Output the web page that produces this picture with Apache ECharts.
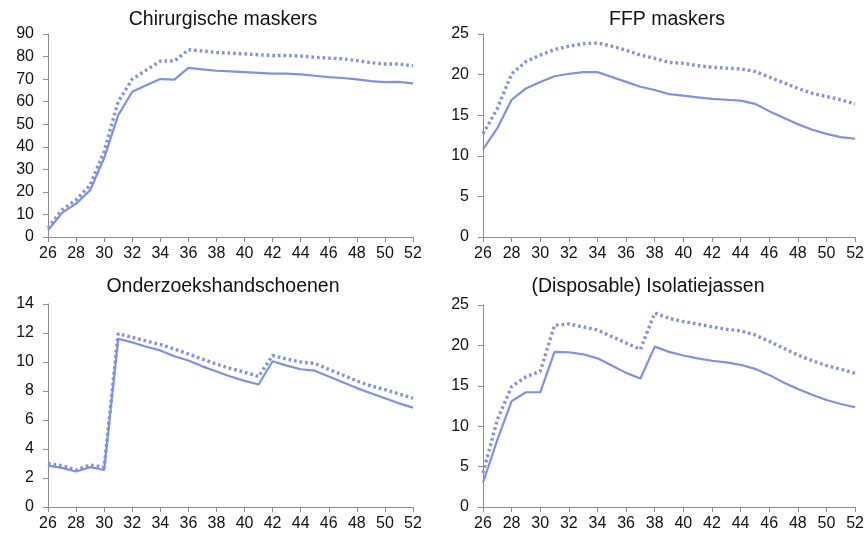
<!DOCTYPE html>
<html><head><meta charset="utf-8">
<script src="https://cdn.jsdelivr.net/npm/echarts@6/dist/echarts.min.js"></script>
<style>html,body{margin:0;padding:0;background:#fff}#c{width:867px;height:537px}</style>
</head><body><div id="c"></div>
<script>
var weeks = [];
for (var w = 26; w <= 52; w++) weeks.push(String(w));

var titles = ['Chirurgische maskers', 'FFP maskers', 'Onderzoekshandschoenen', '(Disposable) Isolatiejassen'];

var chirSolid = [3, 10.7, 14.8, 20.7, 35, 54, 64.4, 67.3, 70, 69.8, 75, 74.3, 73.7, 73.4, 73.1, 72.8, 72.4, 72.4, 72.1, 71.5, 70.9, 70.5, 69.9, 69.1, 68.7, 68.8, 68.1];
var chirDotted = [4, 12, 16.5, 23, 38, 60, 70, 74, 78, 78, 83, 82.5, 81.8, 81.5, 81.2, 80.8, 80.5, 80.5, 80.2, 79.7, 79.3, 79, 78.2, 77.3, 76.7, 76.7, 75.9];

var ffpSolid = [10.8, 13.4, 16.9, 18.3, 19.1, 19.8, 20.1, 20.3, 20.3, 19.7, 19.1, 18.5, 18.1, 17.6, 17.4, 17.2, 17.0, 16.9, 16.8, 16.4, 15.5, 14.7, 13.9, 13.2, 12.7, 12.3, 12.1];
var ffpDotted = [12.7, 15.8, 20.1, 21.6, 22.4, 23.1, 23.5, 23.8, 23.9, 23.5, 23.0, 22.4, 22.0, 21.5, 21.4, 21.1, 20.9, 20.8, 20.7, 20.4, 19.7, 19.0, 18.3, 17.7, 17.3, 16.9, 16.4];

var handSolid = [2.85, 2.7, 2.45, 2.75, 2.55, 11.6, 11.35, 11.05, 10.8, 10.4, 10.1, 9.7, 9.35, 9.0, 8.7, 8.45, 10.05, 9.75, 9.5, 9.4, 9.0, 8.6, 8.2, 7.85, 7.5, 7.15, 6.85];
var handDotted = [3.0, 2.85, 2.55, 2.9, 2.75, 11.95, 11.7, 11.45, 11.2, 10.9, 10.55, 10.2, 9.85, 9.55, 9.3, 9.0, 10.45, 10.2, 10.0, 9.9, 9.5, 9.1, 8.7, 8.35, 8.1, 7.8, 7.5];

var isoSolid = [3.0, 8.3, 13.1, 14.2, 14.2, 19.2, 19.15, 18.9, 18.4, 17.5, 16.6, 15.9, 19.85, 19.2, 18.75, 18.4, 18.1, 17.9, 17.6, 17.1, 16.35, 15.4, 14.6, 13.9, 13.25, 12.75, 12.35];
var isoDotted = [4.2, 10.8, 14.9, 16.1, 16.8, 22.5, 22.65, 22.3, 21.9, 21.1, 20.3, 19.5, 24.0, 23.35, 22.95, 22.65, 22.3, 22.0, 21.8, 21.3, 20.5, 19.65, 18.8, 18.1, 17.5, 17.05, 16.55];

var yMax = [90, 25, 14, 25];
var yInt = [10, 5, 2, 5];
var solids = [chirSolid, ffpSolid, handSolid, isoSolid];
var dotteds = [chirDotted, ffpDotted, handDotted, isoDotted];

var LINE = '#7f92d8';
var AX = '#8a8a8a';
var FONT = 'Liberation Sans, Arial, sans-serif';

var grids = [
  {left: 48, width: 365, top: 34, height: 203},
  {left: 483, width: 373, top: 34, height: 203},
  {left: 48, width: 365, top: 304, height: 203},
  {left: 483, width: 373, top: 305, height: 202}
];
var titlePos = [
  {left: 218, top: 5}, {left: 662, top: 5}, {left: 218, top: 272}, {left: 643, top: 272}
];

var option = {
  animation: false,
  backgroundColor: '#fff',
  title: titles.map(function (t, i) {
    return {text: t, left: titlePos[i].left, top: titlePos[i].top, textAlign: 'center',
      textStyle: {fontFamily: FONT, fontSize: 19.5, fontWeight: 'normal', color: '#111'}};
  }),
  grid: grids,
  xAxis: grids.map(function (g, i) {
    return {type: 'category', gridIndex: i, data: weeks, boundaryGap: false,
      axisLine: {lineStyle: {color: AX, width: 1}},
      axisTick: {interval: 1, length: 5, lineStyle: {color: AX}},
      axisLabel: {interval: 1, color: '#111', fontFamily: FONT, fontSize: 16, margin: 9},
      splitLine: {show: false}};
  }),
  yAxis: grids.map(function (g, i) {
    return {type: 'value', gridIndex: i, min: 0, max: yMax[i], interval: yInt[i],
      axisLine: {show: true, lineStyle: {color: AX, width: 1}},
      axisTick: {show: true, length: 5, lineStyle: {color: AX}},
      axisLabel: {color: '#111', fontFamily: FONT, fontSize: 16, margin: 14},
      splitLine: {show: false}};
  }),
  series: []
};
for (var i = 0; i < 4; i++) {
  option.series.push({type: 'line', xAxisIndex: i, yAxisIndex: i, data: dotteds[i], symbol: 'none',
    lineStyle: {color: LINE, width: 3.4, type: [2.6, 3], cap: 'butt'}});
  option.series.push({type: 'line', xAxisIndex: i, yAxisIndex: i, data: solids[i], symbol: 'none',
    lineStyle: {color: LINE, width: 2.2}});
}
var chart = echarts.init(document.getElementById('c'), null, {renderer: 'canvas'});
chart.setOption(option);
</script>
</body></html>
